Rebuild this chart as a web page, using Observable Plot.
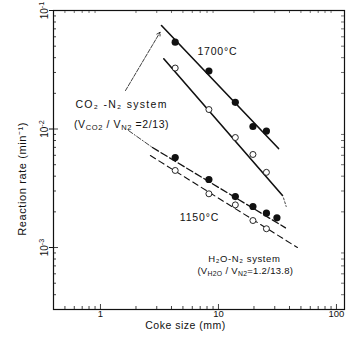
<!DOCTYPE html>
<html><head><meta charset="utf-8">
<script src="https://cdn.jsdelivr.net/npm/d3@7"></script>
<script src="https://cdn.jsdelivr.net/npm/@observablehq/plot@0.6"></script>
<style>body{margin:0;background:#fff} svg{display:block}</style>
</head><body><div id="chart"></div>
<script>
// Coke size (mm) and reaction rates (min^-1)
const sizes = [4.3, 8.3, 13.9, 19.6, 25.5];
const sizes1150CO2 = [4.3, 8.3, 13.9, 19.6, 25.5, 31.3];
const rate1700CO2 = [0.054, 0.0308, 0.0168, 0.0105, 0.0096];
const rate1700H2O = [0.0327, 0.0146, 0.00848, 0.0061, 0.00431];
const rate1150CO2 = [0.00574, 0.00375, 0.00269, 0.00222, 0.00195, 0.00178];
const rate1150H2O = [0.00447, 0.00284, 0.00229, 0.00169, 0.00144];

// fitted lines (end points)
const fit1700CO2x = [3.29, 32.3], fit1700CO2y = [0.0747, 0.00684];
const fit1700H2Ox = [3.44, 34.9], fit1700H2Oy = [0.0391, 0.00275];
const tail1700H2Ox = [35.6, 37.5], tail1700H2Oy = [0.00262, 0.00222];
const fit1150CO2x = [2.76, 37.0], fit1150CO2y = [0.00698, 0.001466];
const fit1150H2Ox = [2.65, 46.7], fit1150H2Oy = [0.00597, 0.001];
const leaderX = [1.73, 2.76], leaderY = [0.0097, 0.00698];
const arrowFrom = [1.63, 0.0211], arrowTo = [3.2, 0.0655];

// ticks
const xMajor = [1, 10, 100];
const xMinor = [0.4,0.5,0.6,0.7,0.8,0.9,2,3,4,5,6,7,8,9,20,30,40,50,60,70,80,90];
const yMajor = [0.001, 0.01, 0.1];
const yMinor = [4e-4,5e-4,6e-4,7e-4,8e-4,9e-4,2e-3,3e-3,4e-3,5e-3,6e-3,7e-3,8e-3,9e-3,2e-2,3e-2,4e-2,5e-2,6e-2,7e-2,8e-2,9e-2];
const yTickLabels = ["10^{-3}", "10^{-2}", "10^{-1}"];

// annotations
const annText = ["1700°C", "1150°C", "CO₂ -N₂ system", "(V_{CO2} / V_{N2} =2/13)", "H₂O-N₂ system", "(V_{H2O} / V_{N2}=1.2/13.8)"];
const annX = [9.8, 6.9, 1.51, 1.51, 16.6, 16.9];
const annY = [0.0451, 0.00179, 0.0161, 0.0109, 0.000807, 0.00064];
const annSize = [10.5, 10.5, 10.5, 10.5, 9.5, 9.5];
const annSpacing = [0.8, 0.8, 1.3, 0.6, 0.6, 0.3];

const W = 357, H = 337, mL = 53, mR = 13, mT = 10, mB = 28;
const fw = W - mL - mR, fh = H - mT - mB;
const ink = "#111";

const pts = (xs, ys) => xs.map((x, i) => ({x, y: ys[i]}));

const chart = Plot.plot({
  width: W, height: H,
  marginLeft: mL, marginRight: mR, marginTop: mT, marginBottom: mB,
  style: {fontFamily: "'Liberation Sans', Arial, sans-serif", fontSize: "10px", color: ink, background: "#fff"},
  x: {type: "log", domain: [0.4, 117], axis: null},
  y: {type: "log", domain: [3e-4, 0.1], axis: null},
  marks: [
    Plot.frame({stroke: ink, strokeWidth: 1.2}),
    // minor/major inner ticks
    Plot.tickX(xMinor, {x: d => d, insetTop: fh - 3, stroke: ink, strokeWidth: 0.8}),
    Plot.tickX(xMajor, {x: d => d, insetTop: fh - 5, stroke: ink, strokeWidth: 0.8}),
    Plot.tickX(xMinor, {x: d => d, insetBottom: fh - 3, stroke: ink, strokeWidth: 0.6}),
    Plot.tickY(yMinor, {y: d => d, insetRight: fw - 3, stroke: ink, strokeWidth: 0.8}),
    Plot.tickY(yMajor, {y: d => d, insetRight: fw - 5, stroke: ink, strokeWidth: 0.8}),
    Plot.tickY(yMinor, {y: d => d, insetLeft: fw - 3, stroke: ink, strokeWidth: 0.6}),
    Plot.axisY({ticks: yMajor, tickSize: 4, tickFormat: () => "", stroke: ink, label: null}),
    Plot.axisX({ticks: xMajor, tickSize: 0, tickPadding: 1, tickFormat: d => String(d), fontSize: 9.5, fill: ink, label: null}),
    Plot.text(yMajor, {y: d => d, text: (d, i) => yTickLabels[i], frameAnchor: "left", textAnchor: "middle", dx: -9, rotate: -90, fontSize: 10, fill: ink}),
    Plot.text(["Reaction rate (min⁻¹)"], {y: [0.0038], frameAnchor: "left", textAnchor: "middle", dx: -31, rotate: -90, fontSize: 11, fill: ink, text: d => d}),
    Plot.text(["Coke size (mm)"], {x: [5.26], frameAnchor: "bottom", dy: 19, fontSize: 10.5, fill: ink, text: d => d}),
    // fitted lines
    Plot.line(pts(fit1700CO2x, fit1700CO2y), {x: "x", y: "y", stroke: ink, strokeWidth: 1.6}),
    Plot.line(pts(fit1700H2Ox, fit1700H2Oy), {x: "x", y: "y", stroke: ink, strokeWidth: 1.6}),
    Plot.line(pts(tail1700H2Ox, tail1700H2Oy), {x: "x", y: "y", stroke: ink, strokeWidth: 0.8, strokeDasharray: "2,2"}),
    Plot.line(pts(fit1150CO2x, fit1150CO2y), {x: "x", y: "y", stroke: ink, strokeWidth: 1.3, strokeDasharray: "7,3"}),
    Plot.line(pts(fit1150H2Ox, fit1150H2Oy), {x: "x", y: "y", stroke: ink, strokeWidth: 1.1, strokeDasharray: "6,4"}),
    Plot.line(pts(leaderX, leaderY), {x: "x", y: "y", stroke: ink, strokeWidth: 0.8, strokeDasharray: "5,2,1,2"}),
    Plot.arrow([0], {x1: arrowFrom[0], y1: arrowFrom[1], x2: arrowTo[0], y2: arrowTo[1], stroke: ink, strokeWidth: 0.8, headLength: 7, strokeDasharray: "4,1.5"}),
    // data points
    Plot.dot(pts(sizes, rate1700CO2), {x: "x", y: "y", r: 3.6, fill: ink, stroke: "none"}),
    Plot.dot(pts(sizes, rate1700H2O), {x: "x", y: "y", r: 3, fill: "#fff", stroke: ink, strokeWidth: 0.9}),
    Plot.dot(pts(sizes1150CO2, rate1150CO2), {x: "x", y: "y", r: 3.6, fill: ink, stroke: "none"}),
    Plot.dot(pts(sizes, rate1150H2O), {x: "x", y: "y", r: 3, fill: "#fff", stroke: ink, strokeWidth: 0.9}),
    // annotations
    ...annText.map((t, i) => Plot.text([t], {x: [annX[i]], y: [annY[i]], text: d => d, fontSize: annSize[i], fill: ink}))
  ]
});

// letter spacing for annotations
d3.select(chart).selectAll("text").each(function () {
  const i = annText.indexOf(this.textContent);
  if (i >= 0) this.setAttribute("letter-spacing", annSpacing[i]);
  if (this.textContent === "Reaction rate (min⁻¹)") this.setAttribute("letter-spacing", 0.6);
  if (this.textContent === "Coke size (mm)") this.setAttribute("letter-spacing", 0.5);
});

// render subscripts _{...} and superscripts ^{...}
d3.select(chart).selectAll("text").each(function () {
  const t = this.textContent;
  if (!t.includes("_{") && !t.includes("^{")) return;
  const el = d3.select(this);
  el.text(null);
  let shift = 0;
  t.split(/([_^]\{[^}]*\})/).forEach(p => {
    if (!p) return;
    if (p.startsWith("_{") || p.startsWith("^{")) {
      const s = p[0] === "_" ? 2.5 : -4;
      el.append("tspan").attr("dy", s).attr("font-size", "0.72em").text(p.slice(2, -1));
      shift = s;
    } else {
      const ts = el.append("tspan").text(p);
      if (shift) { ts.attr("dy", -shift); shift = 0; }
    }
  });
});

document.getElementById("chart").appendChild(chart);
</script>
</body></html>
